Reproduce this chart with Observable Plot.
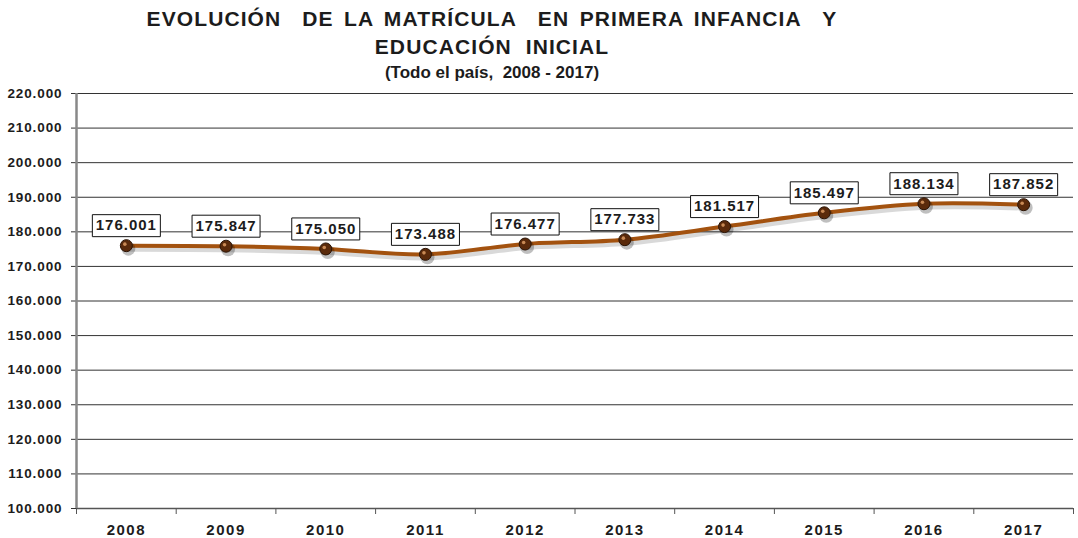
<!DOCTYPE html>
<html>
<head>
<meta charset="utf-8">
<script src="https://cdn.jsdelivr.net/npm/d3@7"></script>
<script src="https://cdn.jsdelivr.net/npm/@observablehq/plot@0.6"></script>
<style>
  html, body { margin: 0; padding: 0; background: #fff; }
  body { width: 1078px; height: 538px; overflow: hidden; font-family: "Liberation Sans", Arial, sans-serif; }
  #title { width: 984px; height: 86px; text-align: center; color: #1c1c1c; font-weight: bold; }
  #title .l1 { font-size: 21px; line-height: 28px; padding-top: 5px; letter-spacing: 1.1px; }
  #title .l1 .w { word-spacing: 3.5px; }
  #title .l3 { font-size: 17px; line-height: 24px; }
  #chart svg g[aria-label="x-axis tick label"] text { letter-spacing: 1.5px; }
  #chart svg g[aria-label="y-axis tick label"] text { letter-spacing: 0.9px; }
  #chart svg g[aria-label="text"] text { letter-spacing: 1px; }
</style>
</head>
<body>
<div id="title">
  <div class="l1"><span class="w">EVOLUCIÓN&nbsp; DE LA MATRÍCULA&nbsp; EN PRIMERA INFANCIA&nbsp; Y</span><br>EDUCACIÓN&nbsp; INICIAL</div>
  <div class="l3">(Todo el país,&nbsp; 2008 - 2017)</div>
</div>
<div id="chart"></div>
<script>
const years = [2008, 2009, 2010, 2011, 2012, 2013, 2014, 2015, 2016, 2017];
const matricula = [176001, 175847, 175050, 173488, 176477, 177733, 181517, 185497, 188134, 187852];
const yTicks = [100000, 110000, 120000, 130000, 140000, 150000, 160000, 170000, 180000, 190000, 200000, 210000, 220000];

const data = years.map((y, i) => ({year: y, value: matricula[i]}));
const boundaries = [...years.map(y => y - 0.5), years[years.length - 1] + 0.5];
const loc = d3.formatLocale({decimal: ",", thousands: ".", grouping: [3], currency: ["$", ""]});
const fmt = loc.format(",.0f");

const boxSymbol = {
  draw(context) {
    context.moveTo(-34, -11);
    context.lineTo(34, -11);
    context.lineTo(34, 11);
    context.lineTo(-34, 11);
    context.closePath();
  }
};

const chart = Plot.plot({
  width: 1078,
  height: 452,
  marginLeft: 76,
  marginRight: 5,
  marginTop: 7,
  marginBottom: 30,
  style: {fontFamily: "'Liberation Sans', Arial, sans-serif", background: "#fff", color: "#1c1c1c"},
  x: {domain: [years[0] - 0.5, years[years.length - 1] + 0.5], axis: null},
  y: {domain: [100000, 220000], axis: null},
  marks: [
    Plot.gridY(yTicks, {stroke: "#333", strokeOpacity: 1, strokeWidth: 1}),
    Plot.axisY(yTicks, {label: null, tickSize: 5, tickPadding: 9, tickFormat: fmt, fontSize: 13.5, fontWeight: "bold", stroke: "#333", fill: "#1c1c1c"}),
    Plot.axisX(boundaries, {label: null, tickSize: 6, tickFormat: () => "", stroke: "#555"}),
    Plot.axisX(years, {label: null, tickSize: 0, tickPadding: 16, tickFormat: d => String(d), fontSize: 15, fontWeight: "bold", fill: "#1c1c1c"}),
    Plot.ruleY([100000], {stroke: "#555", strokeWidth: 1.5}),
    Plot.ruleX([years[0] - 0.5], {stroke: "#888", strokeWidth: 2.5}),
    Plot.line(data, {x: "year", y: "value", curve: "catmull-rom", stroke: "#000", strokeOpacity: 0.15, strokeWidth: 6, dx: 2, dy: 3}),
    Plot.line(data, {x: "year", y: "value", curve: "catmull-rom", stroke: "#a3520f", strokeWidth: 4}),
    Plot.dot(data, {x: "year", y: "value", r: 7, fill: "#000", fillOpacity: 0.25, dx: 2, dy: 3}),
    Plot.dot(data, {x: "year", y: "value", r: 6, fill: "#5a2a0b", stroke: "#2b1406", strokeWidth: 1}),
    Plot.dot(data, {x: "year", y: "value", r: 1.8, fill: "#c98a55", dx: -1.5, dy: -1.5}),
    Plot.dot(data, {x: "year", y: "value", symbol: boxSymbol, r: 10, fill: "#fff", stroke: "#111", strokeWidth: 1, dy: -20}),
    Plot.text(data, {x: "year", y: "value", text: d => fmt(d.value), dy: -20, fontSize: 15, fontWeight: "bold", fill: "#1c1c1c"})
  ]
});
document.getElementById("chart").appendChild(chart);
</script>
</body>
</html>
